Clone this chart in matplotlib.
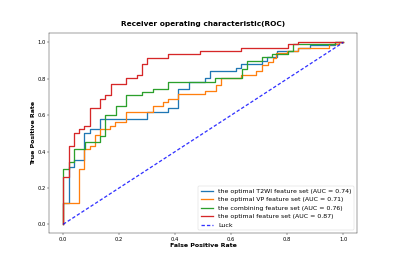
import matplotlib
matplotlib.use("Agg")
import matplotlib.pyplot as plt

# ROC step points (fpr where the rise happens, tpr after the rise)
t2wi_fpr = [0, 0, 0.021, 0.039, 0.075, 0.095, 0.133, 0.298, 0.375, 0.411, 0.45, 0.506, 0.524,
            0.617, 0.634, 0.709, 0.729, 0.764, 0.839, 0.881, 0.97, 1.0]
t2wi_tpr = [0, 0.116, 0.317, 0.354, 0.503, 0.523, 0.58, 0.615, 0.639, 0.744, 0.782, 0.802, 0.845,
            0.859, 0.881, 0.90, 0.92, 0.951, 0.97, 0.988, 1.0, 1.0]

vp_fpr = [0, 0, 0.057, 0.075, 0.095, 0.113, 0.131, 0.167, 0.185, 0.226, 0.321, 0.357, 0.375, 0.411,
          0.506, 0.545, 0.562, 0.634, 0.69, 0.71, 0.73, 0.75, 0.76, 0.80, 0.84, 0.95, 0.985, 1.0]
vp_tpr = [0, 0.116, 0.303, 0.413, 0.428, 0.492, 0.523, 0.543, 0.562, 0.615, 0.648, 0.67, 0.689, 0.716,
          0.731, 0.767, 0.804, 0.823, 0.845, 0.878, 0.895, 0.915, 0.94, 0.955, 0.97, 0.99, 1.0, 1.0]

comb_fpr = [0, 0, 0.021, 0.039, 0.077, 0.133, 0.151, 0.188, 0.226, 0.283, 0.321, 0.375, 0.542,
            0.637, 0.655, 0.709, 0.744, 0.804, 0.821, 0.97, 1.0]
comb_tpr = [0, 0.303, 0.34, 0.413, 0.452, 0.486, 0.602, 0.652, 0.712, 0.727, 0.745, 0.784, 0.806,
            0.854, 0.90, 0.918, 0.937, 0.955, 0.99, 1.0, 1.0]

opt_fpr = [0, 0, 0.021, 0.039, 0.057, 0.075, 0.095, 0.133, 0.151, 0.170, 0.226, 0.262, 0.281, 0.300,
           0.375, 0.488, 0.636, 0.804, 0.840, 1.0]
opt_tpr = [0, 0.26, 0.43, 0.50, 0.525, 0.54, 0.637, 0.689, 0.711, 0.769, 0.806, 0.823, 0.879, 0.915,
           0.937, 0.954, 0.969, 0.989, 1.0, 1.0]

labels = ["the optimal T2WI feature set (AUC = 0.74)",
          "the optimal VP feature set (AUC = 0.71)",
          "the combining feature set (AUC = 0.76)",
          "the optimal feature set (AUC = 0.87)",
          "Luck"]
luck = [0, 1]

fig = plt.figure(figsize=(12, 8.01), dpi=100 / 3)
ax = fig.add_axes([0.123, 0.126, 0.770, 0.749])

lw = 2.8
ax.plot(t2wi_fpr, t2wi_tpr, drawstyle="steps-post", color="C0", lw=lw, label=labels[0])
ax.plot(vp_fpr, vp_tpr, drawstyle="steps-post", color="C1", lw=lw, label=labels[1])
ax.plot(comb_fpr, comb_tpr, drawstyle="steps-post", color="C2", lw=lw, label=labels[2])
ax.plot(opt_fpr, opt_tpr, drawstyle="steps-post", color="C3", lw=lw, label=labels[3])
ax.plot(luck, luck, linestyle="--", dashes=(2.6, 1.6), color="b", lw=lw, alpha=0.8, label=labels[4])

ax.set_xlim(-0.05, 1.05)
ax.set_ylim(-0.05, 1.05)
ax.tick_params(labelsize=11.5)
ax.set_xlabel("False Positive Rate", fontsize=13.5, fontweight="bold", labelpad=2)
ax.set_ylabel("True Positive Rate", fontsize=13.5, fontweight="bold")
ax.set_title("Receiver operating characteristic(ROC)", fontsize=16, fontweight="bold", pad=16)
ax.legend(loc="lower right", fontsize=13.5)

fig.savefig("out.png", dpi=100 / 3)
